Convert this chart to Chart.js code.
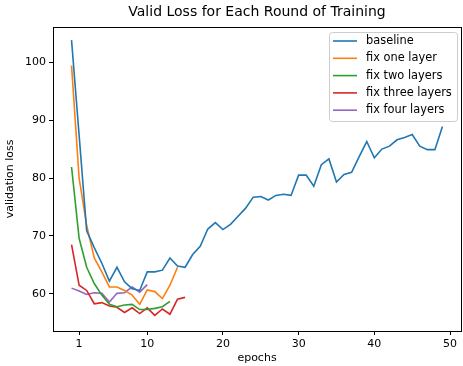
<!DOCTYPE html>
<html>
<head>
<meta charset="utf-8">
<script src="https://cdn.jsdelivr.net/npm/chart.js@4/dist/chart.umd.min.js"></script>
<style>
  body { margin: 0; background: #fff; }
  canvas { display: block; }
</style>
</head>
<body>
<canvas id="lossChart" width="463" height="366"></canvas>
<script>
// epochs run 0..49, ticks as labelled on the original
const tickLabels = [1, 10, 20, 30, 40, 50];
const yTicks = [60, 70, 80, 90, 100];

const seriesNames = ['baseline', 'fix one layer', 'fix two layers', 'fix three layers', 'fix four layers'];
const seriesColors = ['#1f77b4', '#ff7f0e', '#2ca02c', '#d62728', '#9467bd'];

const baseline = [103.8, 87.4, 70.9, 68.0, 65.3, 62.2, 64.6, 62.1, 60.9, 60.6,
    63.8, 63.8, 64.1, 66.2, 64.8, 64.6, 66.8, 68.2, 71.2, 72.3,
    71.1, 72.0, 73.4, 74.8, 76.7, 76.8, 76.2, 77.0, 77.2, 77.0,
    80.5, 80.5, 78.6, 82.3, 83.3, 79.3, 80.6, 81.0, 83.7, 86.3,
    83.5, 85.0, 85.5, 86.6, 87.0, 87.5, 85.5, 84.9, 84.9, 88.9];
const fixOne = [99.4, 80.0, 71.8, 66.2, 63.8, 61.2, 61.2, 60.6, 59.8, 58.2, 60.7, 60.4, 59.2, 61.5, 64.6];
const fixTwo = [81.9, 69.6, 64.6, 61.8, 59.8, 58.2, 57.8, 58.1, 58.2, 57.3, 57.3, 57.5, 57.8, 58.7];
const fixThree = [68.5, 61.5, 60.6, 58.3, 58.5, 57.9, 57.7, 56.8, 57.6, 56.6, 57.6, 56.3, 57.4, 56.5, 59.1, 59.4];
const fixFour = [61.0, 60.5, 59.9, 60.2, 60.1, 58.6, 60.1, 60.2, 61.2, 60.3, 61.6];

const allSeries = [baseline, fixOne, fixTwo, fixThree, fixFour];

const FONT = 'DejaVu Sans';

const datasets = allSeries.map((vals, i) => ({
    label: seriesNames[i],
    data: vals.map((v, e) => ({ x: e, y: v })),
    borderColor: seriesColors[i],
    borderWidth: 1.6,
    pointRadius: 0,
    tension: 0,
    fill: false
}));

// matplotlib style frame around the axes + boxed legend top right
const frameAndLegend = {
    id: 'frameAndLegend',
    afterDraw(chart) {
        const ctx = chart.ctx;
        const a = chart.chartArea;
        ctx.save();
        ctx.strokeStyle = '#000';
        ctx.lineWidth = 1;
        ctx.strokeRect(Math.round(a.left) + 0.5, Math.round(a.top) + 0.5,
            Math.round(a.right - a.left), Math.round(a.bottom - a.top));

        // legend
        const bx = 329.5, by = 32.5, bw = 128, bh = 89, r = 3;
        ctx.beginPath();
        ctx.moveTo(bx + r, by);
        ctx.arcTo(bx + bw, by, bx + bw, by + bh, r);
        ctx.arcTo(bx + bw, by + bh, bx, by + bh, r);
        ctx.arcTo(bx, by + bh, bx, by, r);
        ctx.arcTo(bx, by, bx + bw, by, r);
        ctx.closePath();
        ctx.fillStyle = 'rgba(255,255,255,0.8)';
        ctx.fill();
        ctx.strokeStyle = '#cccccc';
        ctx.stroke();

        ctx.font = '11.4px "' + FONT + '"';
        ctx.textBaseline = 'middle';
        ctx.fillStyle = '#000';
        chart.data.datasets.forEach((ds, i) => {
            const y = 41 + i * 17.3;
            ctx.strokeStyle = ds.borderColor;
            ctx.lineWidth = 1.6;
            ctx.beginPath();
            ctx.moveTo(333, y);
            ctx.lineTo(357, y);
            ctx.stroke();
            ctx.fillText(ds.label, 366, y);
        });
        ctx.restore();
    }
};

const config = {
    type: 'line',
    data: { datasets: datasets },
    options: {
        responsive: false,
        animation: false,
        layout: { padding: { left: 0, right: 2, top: 0, bottom: 0 } },
        plugins: {
            legend: { display: false },
            tooltip: { enabled: false },
            title: {
                display: true,
                fullSize: false,
                text: 'Valid Loss for Each Round of Training',
                color: '#000',
                font: { family: FONT, size: 14, weight: 'normal' },
                padding: { top: 4, bottom: 6 }
            }
        },
        scales: {
            x: {
                type: 'linear',
                min: -2.45,
                max: 51.45,
                afterBuildTicks: (scale) => {
                    scale.ticks = tickLabels.map(v => ({ value: v }));
                },
                afterFit: (scale) => { scale.height = 35; },
                grid: { drawOnChartArea: false, drawTicks: true, tickLength: 4, tickColor: '#000' },
                border: { display: false },
                ticks: {
                    color: '#000',
                    font: { family: FONT, size: 11 },
                    padding: 3,
                    maxRotation: 0,
                    autoSkip: false
                },
                title: {
                    display: true,
                    text: 'epochs',
                    color: '#000',
                    font: { family: FONT, size: 11 },
                    padding: { top: 0, bottom: 1 }
                }
            },
            y: {
                type: 'linear',
                min: 53.6,
                max: 106.1,
                afterBuildTicks: (scale) => {
                    scale.ticks = yTicks.map(v => ({ value: v }));
                },
                afterFit: (scale) => { scale.width = 53; },
                grid: { drawOnChartArea: false, drawTicks: true, tickLength: 4, tickColor: '#000' },
                border: { display: false },
                ticks: {
                    color: '#000',
                    font: { family: FONT, size: 11 },
                    padding: 3
                },
                title: {
                    display: true,
                    text: 'validation loss',
                    color: '#000',
                    font: { family: FONT, size: 11 },
                    padding: { top: 4, bottom: 0 }
                }
            }
        }
    },
    plugins: [frameAndLegend]
};

const ctx = document.getElementById('lossChart').getContext('2d');
new Chart(ctx, config);
</script>
</body>
</html>
